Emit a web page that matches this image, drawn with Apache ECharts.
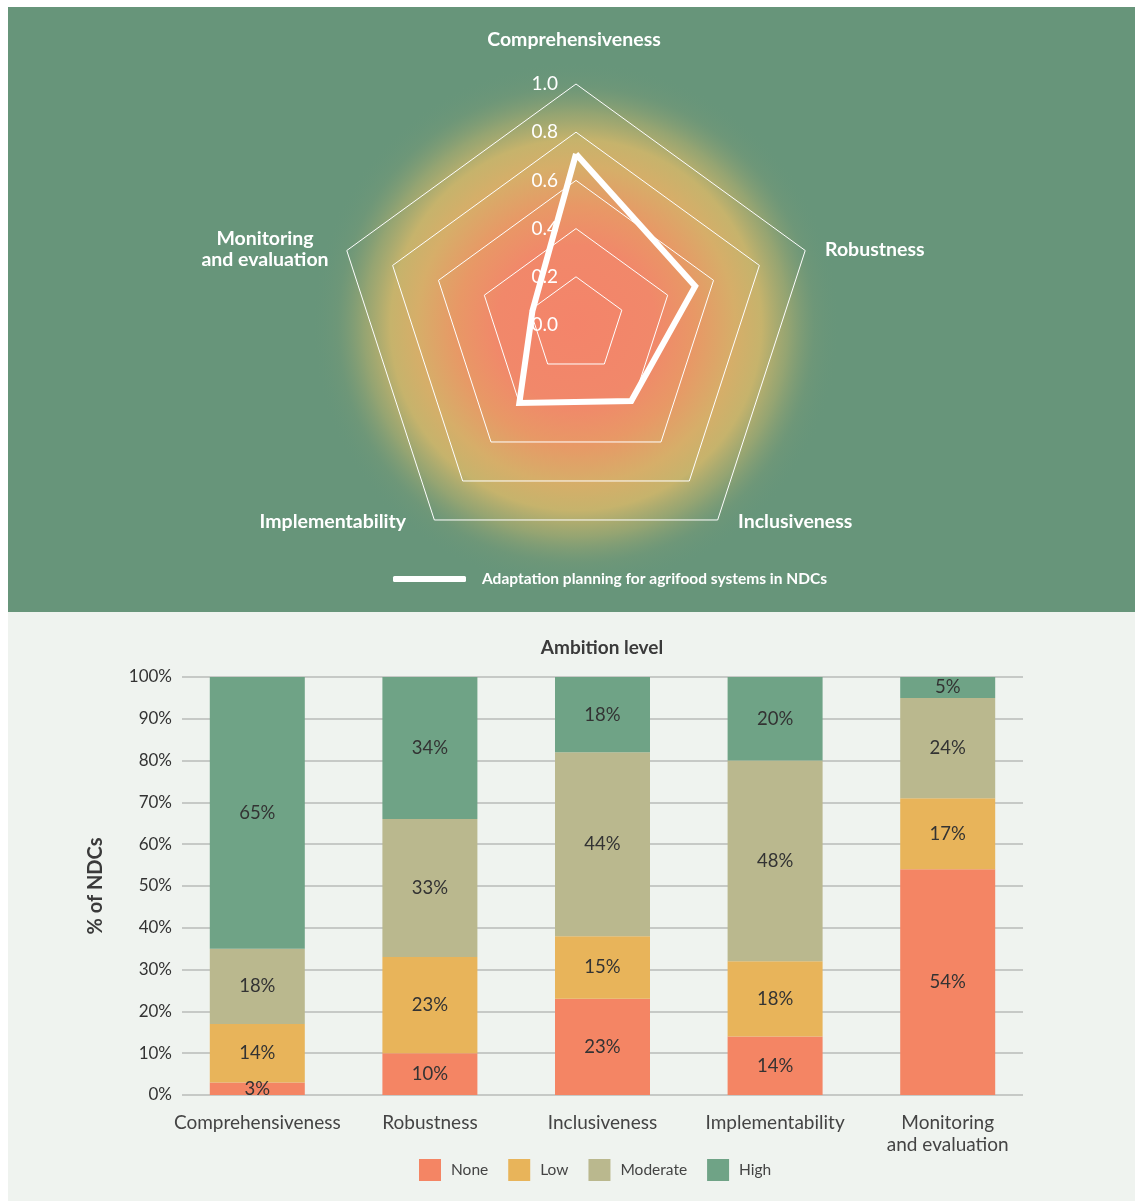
<!DOCTYPE html>
<html>
<head>
<meta charset="utf-8">
<script src="https://cdn.jsdelivr.net/npm/echarts@6/dist/echarts.min.js"></script>
<style>
  html, body { margin: 0; padding: 0; background: #ffffff; }
  #grafica { width: 1135px; height: 1201px; }
</style>
</head>
<body>
<div id="grafica"></div>
<script>
// datos del radar (orden de lectura)
var ejesRadar = ['Comprehensiveness', 'Robustness', 'Inclusiveness', 'Implementability', 'Monitoring and evaluation'];
var valoresRadar = [0.71, 0.52, 0.39, 0.40, 0.19];
var nombreRadar = 'Adaptation planning for agrifood systems in NDCs';

// datos de las barras
var categorias = ['Comprehensiveness', 'Robustness', 'Inclusiveness', 'Implementability', 'Monitoring\nand evaluation'];
var nivelNone = [3, 10, 23, 14, 54];
var nivelLow = [14, 23, 15, 18, 17];
var nivelModerate = [18, 33, 44, 48, 24];
var nivelHigh = [65, 34, 18, 20, 5];
var nivelesNombres = ['None', 'Low', 'Moderate', 'High'];

var fuente = 'Lato';
var verde = '#67957a';
var colores = ['#f48564', '#e8b45a', '#bab88e', '#6fa386'];

// echarts pone los ejes del radar en sentido antihorario
var orden = [0, 4, 3, 2, 1];
var indicadores = orden.map(function (i, k) {
    var ind = { name: ejesRadar[i], min: 0, max: 1 };
    if (k == 0) {
        ind.axisLabel = { show: true };
    }
    return ind;
});
var valoresOrdenados = orden.map(function (i) { return valoresRadar[i]; });

var grafico = echarts.init(document.getElementById('grafica'), null, { renderer: 'canvas' });

var textoBlanco = function (txt, x, y, align) {
    return {
        type: 'text', z: 5, x: x, y: y,
        style: {
            text: txt, fill: '#ffffff', font: 'bold 19.5px ' + fuente,
            textAlign: align, textVerticalAlign: 'middle', lineHeight: 21
        }
    };
};

var option = {
    backgroundColor: '#ffffff',
    textStyle: { fontFamily: fuente },
    animation: false,
    graphic: [
        { type: 'rect', z: -20, shape: { x: 8, y: 7, width: 1127, height: 605 }, style: { fill: verde } },
        { type: 'rect', z: -20, shape: { x: 8, y: 612, width: 1127, height: 589 }, style: { fill: '#eff3ef' } },
        {
            type: 'circle', z: -15, shape: { cx: 576, cy: 325, r: 265 },
            style: {
                fill: new echarts.graphic.RadialGradient(0.5, 0.5, 0.5, [
                    { offset: 0, color: '#f4846a' },
                    { offset: 0.3, color: '#f1886a' },
                    { offset: 0.45, color: '#e89866' },
                    { offset: 0.6, color: '#d6ae69' },
                    { offset: 0.7, color: '#c6b36c' },
                    { offset: 0.8, color: 'rgba(160,168,112,0.8)' },
                    { offset: 0.9, color: 'rgba(118,153,118,0.45)' },
                    { offset: 1, color: 'rgba(103,149,122,0)' }
                ])
            }
        },
        textoBlanco('Comprehensiveness', 574, 40, 'center'),
        textoBlanco('Robustness', 825, 250, 'left'),
        textoBlanco('Inclusiveness', 738, 522, 'left'),
        textoBlanco('Implementability', 406, 522, 'right'),
        textoBlanco('Monitoring\nand evaluation', 265, 249, 'center')
    ],
    title: {
        text: 'Ambition level',
        left: 597, top: 633, textAlign: 'center',
        textStyle: { fontFamily: fuente, fontSize: 19, fontWeight: 'bold', color: '#3a3a3a' }
    },
    legend: [
        {
            data: [{ name: nombreRadar, icon: 'roundRect' }],
            left: 388, top: 566,
            itemWidth: 73, itemHeight: 6, itemGap: 10,
            textStyle: { color: '#ffffff', fontFamily: fuente, fontSize: 15.5, fontWeight: 'bold', padding: [0, 0, 0, 11] }
        },
        {
            data: nivelesNombres,
            left: 414, top: 1154,
            icon: 'rect',
            itemWidth: 22, itemHeight: 22, itemGap: 20,
            textStyle: { color: '#444444', fontFamily: fuente, fontSize: 15.5, padding: [0, 0, 0, 5] }
        }
    ],
    radar: {
        center: [576, 325],
        radius: 241,
        shape: 'polygon',
        splitNumber: 5,
        indicator: indicadores,
        axisName: { show: false },
        axisLine: { show: false },
        axisTick: { show: false },
        splitArea: { show: false },
        splitLine: { lineStyle: { color: '#ffffff', width: 1 } },
        axisLabel: {
            show: false, color: '#ffffff', fontSize: 19, fontFamily: fuente, margin: 18,
            formatter: function (v) { return v.toFixed(1); }
        }
    },
    grid: [
        { left: 182, right: 112, top: 677, bottom: 106 },
        { left: 171, right: 101, top: 677, bottom: 106 }
    ],
    xAxis: [
        { gridIndex: 0, type: 'category', data: categorias, show: false },
        {
            gridIndex: 1, type: 'category', data: categorias,
            axisLine: { show: false }, axisTick: { show: false },
            axisLabel: { color: '#444444', fontSize: 19, fontFamily: fuente, margin: 17, lineHeight: 22, interval: 0 }
        }
    ],
    yAxis: [
        {
            gridIndex: 0, type: 'value', min: 0, max: 100, interval: 10,
            name: '% of NDCs', nameLocation: 'middle', nameRotate: 90, nameGap: 76,
            nameTextStyle: { color: '#3a3a3a', fontSize: 20, fontWeight: 'bold', fontFamily: fuente },
            axisLine: { show: false }, axisTick: { show: false },
            axisLabel: { color: '#333333', fontSize: 17, fontFamily: fuente, margin: 10, formatter: '{value}%' },
            splitLine: { lineStyle: { color: '#b8bbb8', width: 1.5 } }
        },
        { gridIndex: 1, type: 'value', min: 0, max: 100, show: false, splitLine: { show: false } }
    ],
    series: []
};

// serie del radar
option.series.push({
    name: nombreRadar,
    type: 'radar',
    symbol: 'none',
    lineStyle: { color: '#ffffff', width: 6, join: 'miter', miterLimit: 20 },
    itemStyle: { color: '#ffffff' },
    data: [{ value: valoresOrdenados, name: nombreRadar }]
});

// series apiladas
[nivelNone, nivelLow, nivelModerate, nivelHigh].forEach(function (valores, index) {
    option.series.push({
        name: nivelesNombres[index],
        type: 'bar',
        stack: 'total',
        xAxisIndex: 1, yAxisIndex: 1,
        barWidth: 95,
        itemStyle: { color: colores[index] },
        label: {
            show: true, position: 'inside', formatter: '{c}%',
            color: '#333333', fontSize: 18.5, fontFamily: fuente
        },
        data: valores
    });
});

grafico.setOption(option);
</script>
</body>
</html>
